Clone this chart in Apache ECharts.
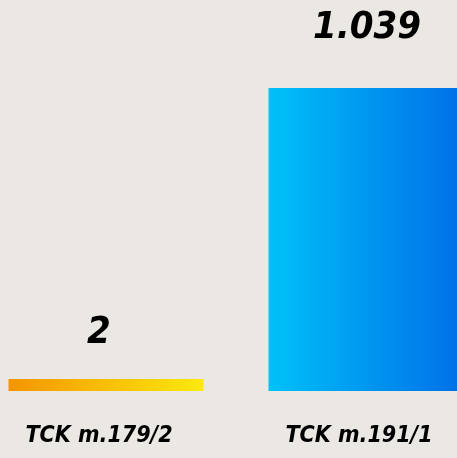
<!DOCTYPE html>
<html>
<head>
<meta charset="utf-8">
<script src="https://cdn.jsdelivr.net/npm/echarts@6/dist/echarts.min.js"></script>
<style>
  html, body { margin: 0; padding: 0; background: #ebe8e3; }
  #chart { width: 457px; height: 458px; }
</style>
</head>
<body>
<div id="chart"></div>
<script>
// data
var categories = ["TCK m.179/2", "TCK m.191/1"];
var values = [2, 1039];
var valueLabels = ["2", "1.039"];

// styling
var barColors = [
  ["#f39500", "#fde90f"],
  ["#00c1f8", "#006fe8"]
];
var labelDistance = [27, 41];
var labelShift = [-7, 1];
var labelFont = "'DejaVu Sans Condensed', 'DejaVu Sans', sans-serif";

var chart = echarts.init(document.getElementById("chart"));

var seriesData = values.map(function (v, i) {
  return {
    value: v,
    itemStyle: {
      color: new echarts.graphic.LinearGradient(0, 0, 1, 0, [
        { offset: 0, color: barColors[i][0] },
        { offset: 1, color: barColors[i][1] }
      ])
    },
    label: {
      distance: labelDistance[i],
      offset: [labelShift[i], 0]
    }
  };
});

chart.setOption({
  backgroundColor: "#ebe8e3",
  animation: false,
  grid: {
    left: -24,
    width: 520,
    top: 88,
    bottom: 67,
    containLabel: false,
    outerBoundsMode: "none"
  },
  xAxis: {
    type: "category",
    data: categories,
    axisLine: { show: false },
    axisTick: { show: false },
    axisLabel: {
      margin: 34,
      padding: [0, 14, 0, 0],
      color: "#000",
      fontFamily: labelFont,
      fontWeight: "bold",
      fontStyle: "italic",
      fontSize: 23
    }
  },
  yAxis: {
    type: "value",
    min: 0,
    max: 1039,
    show: false,
    splitLine: { show: false }
  },
  series: [
    {
      type: "bar",
      data: seriesData,
      barWidth: "75%",
      barMinHeight: 12,
      label: {
        show: true,
        position: "top",
        color: "#000",
        fontFamily: labelFont,
        fontWeight: "bold",
        fontStyle: "italic",
        fontSize: 38,
        formatter: function (p) {
          return valueLabels[p.dataIndex];
        }
      }
    }
  ]
});
</script>
</body>
</html>
